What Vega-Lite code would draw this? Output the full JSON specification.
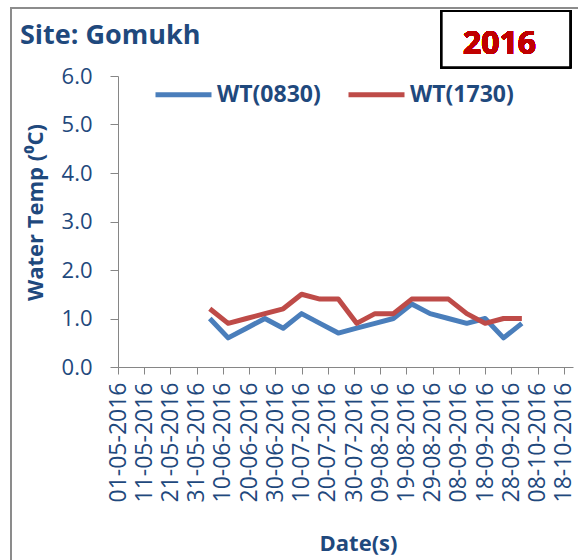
{
  "$schema": "https://vega.github.io/schema/vega-lite/v6.json",
  "width": 455,
  "height": 291,
  "autosize": {"type": "none"},
  "padding": {"left": 118, "top": 76, "right": 5, "bottom": 193},
  "background": "white",
  "config": {"font": "Open Sans", "view": {"stroke": null}},
  "title": {
    "text": "Site: Gomukh",
    "anchor": "start",
    "frame": "group",
    "dx": -98,
    "dy": 64,
    "offset": 0,
    "baseline": "alphabetic",
    "fontSize": 27,
    "fontWeight": "bold",
    "color": "#1F497D",
    "font": "Open Sans"
  },
  "data": {
    "values": [
      {"date": "2016-06-05", "series": "WT(0830)", "temp": 1.0},
      {"date": "2016-06-12", "series": "WT(0830)", "temp": 0.6},
      {"date": "2016-06-19", "series": "WT(0830)", "temp": 0.8},
      {"date": "2016-06-26", "series": "WT(0830)", "temp": 1.0},
      {"date": "2016-07-03", "series": "WT(0830)", "temp": 0.8},
      {"date": "2016-07-10", "series": "WT(0830)", "temp": 1.1},
      {"date": "2016-07-17", "series": "WT(0830)", "temp": 0.9},
      {"date": "2016-07-24", "series": "WT(0830)", "temp": 0.7},
      {"date": "2016-07-31", "series": "WT(0830)", "temp": 0.8},
      {"date": "2016-08-07", "series": "WT(0830)", "temp": 0.9},
      {"date": "2016-08-14", "series": "WT(0830)", "temp": 1.0},
      {"date": "2016-08-21", "series": "WT(0830)", "temp": 1.3},
      {"date": "2016-08-28", "series": "WT(0830)", "temp": 1.1},
      {"date": "2016-09-04", "series": "WT(0830)", "temp": 1.0},
      {"date": "2016-09-11", "series": "WT(0830)", "temp": 0.9},
      {"date": "2016-09-18", "series": "WT(0830)", "temp": 1.0},
      {"date": "2016-09-25", "series": "WT(0830)", "temp": 0.6},
      {"date": "2016-10-02", "series": "WT(0830)", "temp": 0.9},
      {"date": "2016-06-05", "series": "WT(1730)", "temp": 1.2},
      {"date": "2016-06-12", "series": "WT(1730)", "temp": 0.9},
      {"date": "2016-06-19", "series": "WT(1730)", "temp": 1.0},
      {"date": "2016-06-26", "series": "WT(1730)", "temp": 1.1},
      {"date": "2016-07-03", "series": "WT(1730)", "temp": 1.2},
      {"date": "2016-07-10", "series": "WT(1730)", "temp": 1.5},
      {"date": "2016-07-17", "series": "WT(1730)", "temp": 1.4},
      {"date": "2016-07-24", "series": "WT(1730)", "temp": 1.4},
      {"date": "2016-07-31", "series": "WT(1730)", "temp": 0.9},
      {"date": "2016-08-07", "series": "WT(1730)", "temp": 1.1},
      {"date": "2016-08-14", "series": "WT(1730)", "temp": 1.1},
      {"date": "2016-08-21", "series": "WT(1730)", "temp": 1.4},
      {"date": "2016-08-28", "series": "WT(1730)", "temp": 1.4},
      {"date": "2016-09-04", "series": "WT(1730)", "temp": 1.4},
      {"date": "2016-09-11", "series": "WT(1730)", "temp": 1.1},
      {"date": "2016-09-18", "series": "WT(1730)", "temp": 0.9},
      {"date": "2016-09-25", "series": "WT(1730)", "temp": 1.0},
      {"date": "2016-10-02", "series": "WT(1730)", "temp": 1.0}
    ]
  },
  "layer": [
    {
      "mark": {"type": "rect", "fill": null, "fillOpacity": 0, "stroke": "#8C8C8C", "strokeWidth": 1.5},
      "encoding": {
        "x": {"datum": {"year": 2016, "month": 3, "date": 21, "hours": 7, "utc": true}, "type": "temporal"},
        "x2": {"datum": {"year": 2016, "month": 11, "date": 15, "utc": true}},
        "y": {"datum": 7.408, "type": "quantitative"},
        "y2": {"datum": -5}
      }
    },
    {
      "mark": {"type": "rect", "fill": "white", "stroke": "black", "strokeWidth": 2},
      "encoding": {
        "x": {"datum": {"year": 2016, "month": 9, "date": 1, "hours": 10, "utc": true}, "type": "temporal"},
        "x2": {"datum": {"year": 2016, "month": 10, "date": 20, "hours": 10, "utc": true}},
        "y": {"datum": 7.34, "type": "quantitative"},
        "y2": {"datum": 6.18}
      }
    },
    {
      "mark": {"type": "text", "text": "2016", "font": "Open Sans", "fontSize": 32, "fontWeight": "bold", "color": "#C00000", "align": "center", "baseline": "middle"},
      "encoding": {
        "x": {"datum": {"year": 2016, "month": 9, "date": 23, "hours": 12, "utc": true}, "type": "temporal"},
        "y": {"datum": 6.66, "type": "quantitative"}
      }
    },
    {
      "mark": {"type": "line", "strokeWidth": 5, "strokeJoin": "round"},
      "encoding": {
        "x": {
          "field": "date",
          "type": "temporal",
          "scale": {
            "type": "utc",
            "domain": [
              {"year": 2016, "month": 5, "date": 1, "utc": true},
              {"year": 2016, "month": 10, "date": 21, "hours": 12, "utc": true}
            ],
            "nice": false
          },
          "axis": {
            "values": [
              {"year": 2016, "month": 5, "date": 1, "utc": true},
              {"year": 2016, "month": 5, "date": 11, "utc": true},
              {"year": 2016, "month": 5, "date": 21, "utc": true},
              {"year": 2016, "month": 5, "date": 31, "utc": true},
              {"year": 2016, "month": 6, "date": 10, "utc": true},
              {"year": 2016, "month": 6, "date": 20, "utc": true},
              {"year": 2016, "month": 6, "date": 30, "utc": true},
              {"year": 2016, "month": 7, "date": 10, "utc": true},
              {"year": 2016, "month": 7, "date": 20, "utc": true},
              {"year": 2016, "month": 7, "date": 30, "utc": true},
              {"year": 2016, "month": 8, "date": 9, "utc": true},
              {"year": 2016, "month": 8, "date": 19, "utc": true},
              {"year": 2016, "month": 8, "date": 29, "utc": true},
              {"year": 2016, "month": 9, "date": 8, "utc": true},
              {"year": 2016, "month": 9, "date": 18, "utc": true},
              {"year": 2016, "month": 9, "date": 28, "utc": true},
              {"year": 2016, "month": 10, "date": 8, "utc": true},
              {"year": 2016, "month": 10, "date": 18, "utc": true}
            ],
            "tickCount": 40,
            "format": "%d-%m-%Y",
            "labelAngle": -90,
            "labelFont": "Open Sans",
            "labelFontSize": 23,
            "labelColor": "#1F497D",
            "labelPadding": 8,
            "labelOverlap": false,
            "labelFlush": false,
            "labelBound": false,
            "tickSize": 7,
            "tickColor": "#868686",
            "domainColor": "#868686",
            "grid": false,
            "title": "Date(s)",
            "titleFont": "Open Sans",
            "titleFontSize": 22,
            "titleFontWeight": "bold",
            "titleColor": "#1F497D",
            "titleX": 240,
            "titleY": 176,
            "titleAlign": "center",
            "titleBaseline": "middle"
          }
        },
        "y": {
          "field": "temp",
          "type": "quantitative",
          "scale": {"domain": [0, 6], "nice": false, "zero": false},
          "axis": {
            "values": [0, 1, 2, 3, 4, 5, 6],
            "tickCount": 10,
            "format": ".1f",
            "labelFont": "Open Sans",
            "labelFontSize": 22,
            "labelColor": "#1F497D",
            "labelPadding": 18,
            "tickSize": 8,
            "tickColor": "#868686",
            "domainColor": "#868686",
            "grid": false,
            "title": "Water Temp (⁰C)",
            "titleFont": "Open Sans",
            "titleFontSize": 22,
            "titleFontWeight": "bold",
            "titleColor": "#1F497D",
            "titleX": -83,
            "titleY": 136,
            "titleAngle": -90,
            "titleAlign": "center",
            "titleBaseline": "middle"
          }
        },
        "color": {
          "field": "series",
          "type": "nominal",
          "scale": {"domain": ["WT(0830)", "WT(1730)"], "range": ["#4A7EBB", "#BE4B48"]},
          "legend": {
            "orient": "none",
            "legendX": 35,
            "legendY": -12,
            "direction": "horizontal",
            "title": null,
            "symbolType": "stroke",
            "symbolSize": 3136,
            "symbolStrokeWidth": 5,
            "labelFont": "Open Sans",
            "labelFontSize": 23,
            "labelFontWeight": "bold",
            "labelColor": "#1F497D",
            "labelOffset": 3,
            "columnPadding": 17,
            "padding": 0
          }
        }
      }
    }
  ]
}
